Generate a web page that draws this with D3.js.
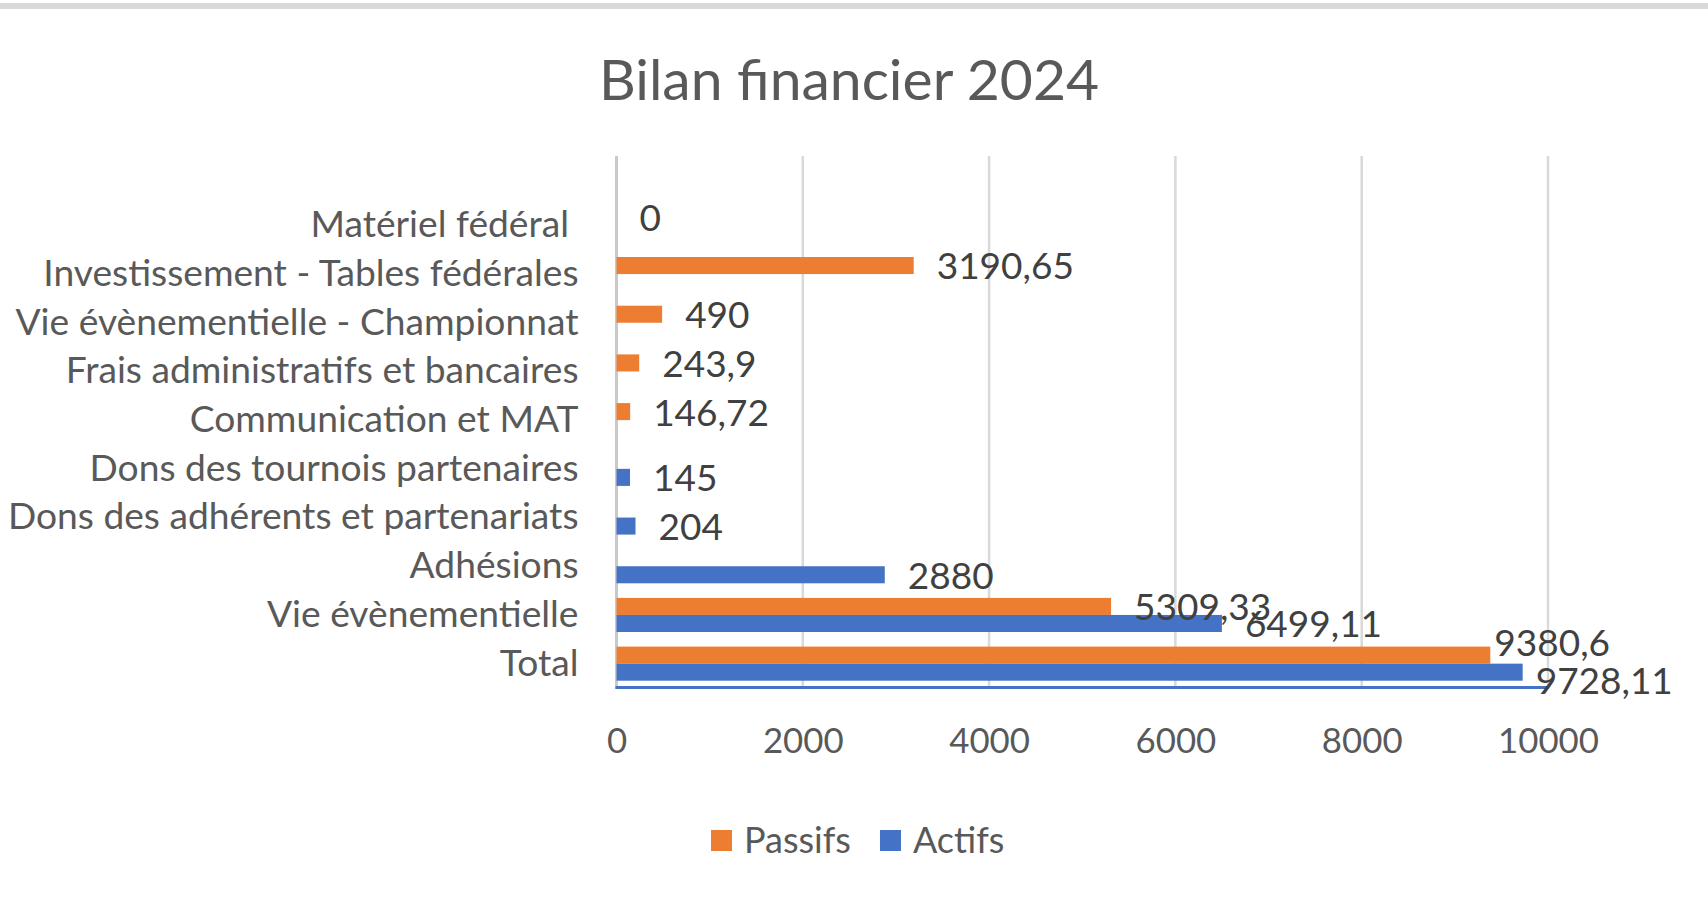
<!DOCTYPE html>
<html>
<head>
<meta charset="utf-8">
<script src="https://cdn.jsdelivr.net/npm/d3@7"></script>
<style>
  body { margin: 0; background: #fff; }
  svg { font-family: Lato, 'Open Sans', sans-serif; }
</style>
</head>
<body>
<svg id="chart"></svg>
<script>
// data
const categories = [
    'Matériel fédéral ',
    'Investissement - Tables fédérales',
    'Vie évènementielle - Championnat',
    'Frais administratifs et bancaires',
    'Communication et MAT',
    'Dons des tournois partenaires',
    'Dons des adhérents et partenariats',
    'Adhésions',
    'Vie évènementielle',
    'Total'
];
const seriesNames = ['Passifs', 'Actifs'];
const passifs = [0, 3190.65, 490, 243.9, 146.72, null, null, null, 5309.33, 9380.6];
const actifs = [null, null, null, null, null, 145, 204, 2880, 6499.11, 9728.11];
const xTicks = [0, 2000, 4000, 6000, 8000, 10000];
const seriesColors = ['#ED7D31', '#4472C4'];
const chartTitle = 'Bilan financier 2024';

class BarChart {

    constructor(_config) {
        this.config = {
            parentElement: _config.parentElement,
            containerWidth: 1708,
            containerHeight: 901,
            gridTop: 156,
            bandTop: 201,
            bottom: 688,
            left: 616.5,
            right: 1548
        };
        this.initVis();
    }

    initVis() {
        let vis = this;
        const c = vis.config;

        vis.svg = d3.select(c.parentElement)
            .attr('width', c.containerWidth)
            .attr('height', c.containerHeight);

        // grey strip left over at the top of the screenshot
        vis.svg.append('rect')
            .attr('x', 0).attr('y', 3)
            .attr('width', c.containerWidth).attr('height', 6)
            .attr('fill', '#d9d9d9');

        vis.xScale = d3.scaleLinear()
            .domain([0, 10000])
            .range([c.left, c.right]);

        vis.yScale = d3.scaleBand()
            .domain(categories)
            .range([c.bandTop, c.bottom])
            .paddingInner(0.3)
            .paddingOuter(0.15);

        vis.ySub = d3.scaleBand()
            .domain(seriesNames)
            .range([0, vis.yScale.bandwidth()]);

        vis.colorScale = d3.scaleOrdinal()
            .domain(seriesNames)
            .range(seriesColors);

        vis.fmt = d => String(d).replace('.', ',');

        vis.renderVis();
    }

    renderVis() {
        let vis = this;
        const c = vis.config;

        // title
        vis.svg.append('text')
            .attr('x', 849)
            .attr('y', 100)
            .attr('text-anchor', 'middle')
            .attr('fill', '#595959')
            .attr('font-size', 57)
            .text(chartTitle);

        // vertical gridlines
        vis.svg.append('g')
            .selectAll('line')
            .data(xTicks)
            .join('line')
            .attr('x1', d => vis.xScale(d))
            .attr('x2', d => vis.xScale(d))
            .attr('y1', c.gridTop)
            .attr('y2', c.bottom + 1)
            .attr('stroke', (d, i) => i === 0 ? '#c9c9c9' : '#d9d9d9')
            .attr('stroke-width', (d, i) => i === 0 ? 3 : 2.5);

        // x axis labels
        const xAxis = d3.axisBottom(vis.xScale)
            .tickValues(xTicks)
            .tickFormat(d => d)
            .tickSize(0)
            .tickPadding(39);
        const xAxisG = vis.svg.append('g')
            .attr('transform', `translate(0,${c.bottom + 1})`)
            .call(xAxis);
        xAxisG.select('.domain').remove();
        xAxisG.attr('font-size', 34.8).attr('font-family', null);
        xAxisG.selectAll('text').attr('fill', '#595959');

        // y axis labels
        const yAxis = d3.axisLeft(vis.yScale)
            .tickSize(0)
            .tickPadding(38);
        const yAxisG = vis.svg.append('g')
            .attr('transform', `translate(${c.left},0)`)
            .call(yAxis);
        yAxisG.select('.domain').remove();
        yAxisG.attr('font-size', 37.2).attr('font-family', null);
        yAxisG.selectAll('text')
            .attr('fill', '#595959')
            .style('white-space', 'pre');

        // flatten to one record per bar
        const rows = [];
        categories.forEach((cat, i) => {
            [passifs[i], actifs[i]].forEach((v, s) => {
                if (v !== null) rows.push({ cat: cat, series: seriesNames[s], val: v });
            });
        });

        vis.svg.append('g')
            .selectAll('rect')
            .data(rows)
            .join('rect')
            .attr('x', vis.xScale(0))
            .attr('y', d => vis.yScale(d.cat) + vis.ySub(d.series))
            .attr('width', d => vis.xScale(d.val) - vis.xScale(0))
            .attr('height', vis.ySub.bandwidth())
            .attr('fill', d => vis.colorScale(d.series));

        // thin blue strip along the bottom of the plot
        vis.svg.append('line')
            .attr('x1', vis.xScale(0) - 1)
            .attr('x2', vis.xScale(10000))
            .attr('y1', c.bottom - 0.5)
            .attr('y2', c.bottom - 0.5)
            .attr('stroke', seriesColors[1])
            .attr('stroke-width', 3);

        // data labels
        const labels = vis.svg.append('g')
            .selectAll('text')
            .data(rows)
            .join('text')
            .attr('font-size', 37)
            .attr('fill', '#404040')
            .attr('dy', '0.35em')
            .attr('x', d => vis.xScale(d.val) + 23)
            .attr('y', d => vis.yScale(d.cat) + vis.ySub(d.series) + vis.ySub.bandwidth() / 2 + 1)
            .text(d => vis.fmt(d.val));

        // labels running past the plot get pulled in, like Excel does
        labels.each(function(d) {
            const el = d3.select(this);
            const w = this.getComputedTextLength();
            if (+el.attr('x') + w > c.right + 60) {
                const first = d.series === seriesNames[0];
                el.attr('x', vis.xScale(d.val) + (first ? 4 : 13))
                  .attr('y', +el.attr('y') + (first ? -13 : 7.5));
            }
        });

        // legend
        const legend = vis.svg.append('g');
        let lx = 711;
        seriesNames.forEach(name => {
            legend.append('rect')
                .attr('x', lx).attr('y', 830)
                .attr('width', 21).attr('height', 21)
                .attr('fill', vis.colorScale(name));
            const t = legend.append('text')
                .attr('x', lx + 33).attr('y', 840)
                .attr('dy', '0.35em')
                .attr('font-size', 36)
                .attr('fill', '#595959')
                .text(name);
            lx += 33 + t.node().getComputedTextLength() + 29;
        });
    }
}

new BarChart({ parentElement: '#chart' });
</script>
</body>
</html>
